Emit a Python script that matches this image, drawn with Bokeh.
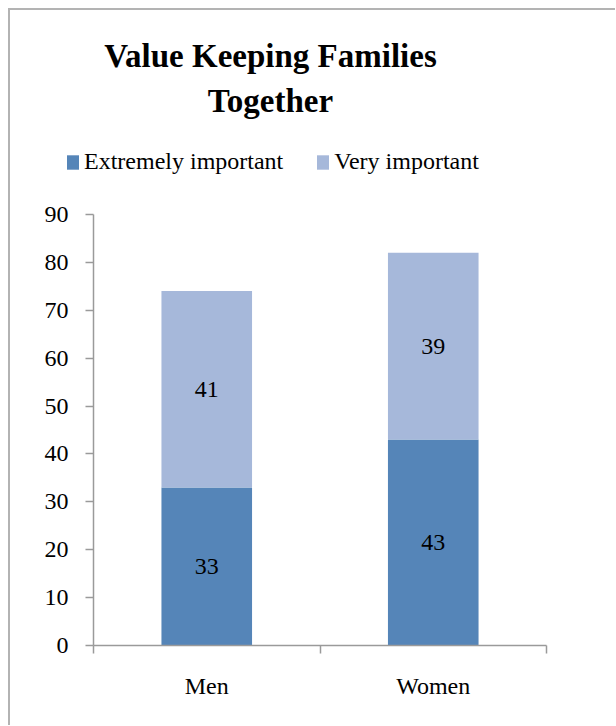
from bokeh.plotting import figure
from bokeh.layouts import column
from bokeh.models import (ColumnDataSource, FixedTicker, Label, Legend, LegendItem,
                          LabelSet, Range1d)
from bokeh.embed import file_html
from bokeh.resources import INLINE

categories = ["Men", "Women"]
extremely = [33, 43]
very = [41, 39]
series_names = ["Extremely important", "Very important"]
colors = ["#5585b8", "#a6b8da"]
y_ticks = [0, 10, 20, 30, 40, 50, 60, 70, 80, 90]
title_lines = ["Value Keeping Families", "Together"]

FONT = "Liberation Serif"
AXIS_GRAY = "#9a9a9a"

W = 605
TOP_H = 184
MAIN_H = 531

# ---------------- header: title + legend ----------------
head = figure(width=W, height=TOP_H, output_backend="svg", toolbar_location=None,
              x_range=Range1d(0, W), y_range=Range1d(0, TOP_H),
              x_axis_type=None, y_axis_type=None, title=None,
              min_border=0, min_border_left=0, min_border_right=0,
              min_border_top=0, min_border_bottom=0)
head.frame_align = False
head.outline_line_color = None
head.xgrid.visible = False
head.ygrid.visible = False

for ln, base in zip(title_lines, [139, 94]):
    head.add_layout(Label(x=260, y=base, text=ln, text_align="center",
                          text_baseline="alphabetic", text_font=FONT,
                          text_font_style="bold", text_font_size="33px",
                          text_color="#000000"))

# legend swatches (zero-height, invisible bars that only carry the colours)
d0 = head.vbar(x=[0], top=[0], width=0, fill_color=colors[0], line_color=None)
d1 = head.vbar(x=[0], top=[0], width=0, fill_color=colors[1], line_color=None)
legend = Legend(items=[LegendItem(label=series_names[0], renderers=[d0]),
                       LegendItem(label=series_names[1], renderers=[d1])],
                orientation="horizontal", location=(55, 19),
                glyph_width=15, glyph_height=18, label_standoff=4, spacing=32,
                padding=0, margin=0, border_line_color=None,
                background_fill_alpha=0, label_height=14,
                label_text_font=FONT, label_text_font_size="24px",
                label_text_color="#000000")
head.add_layout(legend, "center")

# ---------------- main chart ----------------
xs = [i + 0.5 for i in range(len(categories))]
src = ColumnDataSource(dict(
    x=xs, e=extremely, v=very,
    top1=[e + v for e, v in zip(extremely, very)],
    mid0=[e / 2 for e in extremely],
    mid1=[e + v / 2 for e, v in zip(extremely, very)],
    le=[str(e) for e in extremely], lv=[str(v) for v in very],
    zero=[0] * len(xs),
))

p = figure(width=W, height=MAIN_H, output_backend="svg", toolbar_location=None,
           x_range=Range1d(0, len(categories)), y_range=Range1d(0, 90),
           min_border_left=83, min_border_right=69, min_border_top=20,
           min_border_bottom=80, title=None)
p.frame_align = False
p.outline_line_color = None
p.xgrid.visible = False
p.ygrid.visible = False

p.vbar(x="x", bottom="zero", top="e", width=0.4, source=src,
       fill_color=colors[0], line_color=None)
p.vbar(x="x", bottom="e", top="top1", width=0.4, source=src,
       fill_color=colors[1], line_color=None)

for col, lab in (("mid0", "le"), ("mid1", "lv")):
    p.add_layout(LabelSet(x="x", y=col, text=lab, source=src, text_align="center",
                          text_baseline="middle", text_font=FONT,
                          text_font_size="24px", text_color="#000000"))

p.yaxis.ticker = FixedTicker(ticks=y_ticks)
p.yaxis.axis_line_color = AXIS_GRAY
p.yaxis.axis_line_width = 1.5
p.yaxis.major_tick_line_color = AXIS_GRAY
p.yaxis.major_tick_line_width = 1.5
p.yaxis.major_tick_out = 8
p.yaxis.major_tick_in = 0
p.yaxis.minor_tick_line_color = None
p.yaxis.major_label_text_font = FONT
p.yaxis.major_label_text_font_size = "24px"
p.yaxis.major_label_text_color = "#000000"
p.yaxis.major_label_standoff = 17

p.xaxis.ticker = FixedTicker(ticks=xs, minor_ticks=list(range(len(categories) + 1)))
p.xaxis.major_label_overrides = {x: c for x, c in zip(xs, categories)}
p.xaxis.axis_line_color = AXIS_GRAY
p.xaxis.axis_line_width = 1.5
p.xaxis.major_tick_line_color = None
p.xaxis.minor_tick_line_color = AXIS_GRAY
p.xaxis.minor_tick_line_width = 1.5
p.xaxis.minor_tick_out = 8
p.xaxis.minor_tick_in = 0
p.xaxis.major_label_text_font = FONT
p.xaxis.major_label_text_font_size = "24px"
p.xaxis.major_label_text_color = "#000000"
p.xaxis.major_label_standoff = 19

layout = column(head, p, spacing=0,
                styles={"margin-left": "8px", "margin-top": "8px",
                        "border-left": "2px solid #b3b3b3",
                        "border-top": "2px solid #b3b3b3"})

open("out.html", "w").write(file_html(layout, INLINE))
